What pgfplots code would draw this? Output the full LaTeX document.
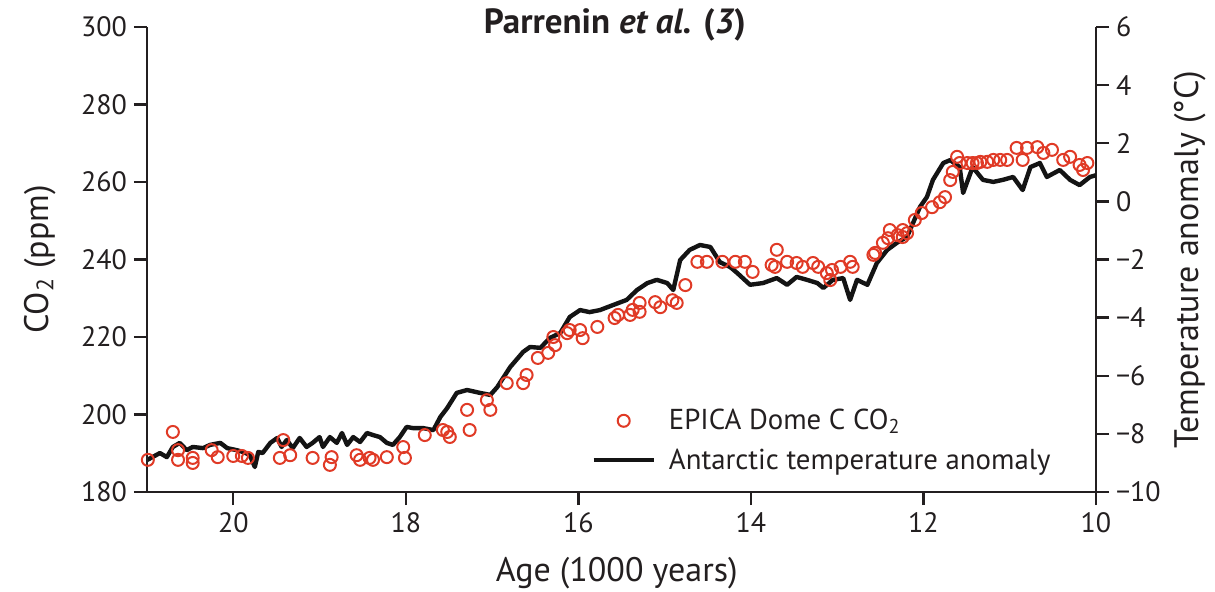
\documentclass[border=0pt]{standalone}
\usepackage{pgfplots}
\pgfplotsset{compat=1.18}
\usepackage{fontspec}
\setmainfont{PT Sans}
\definecolor{co2red}{RGB}{224,58,38}
\definecolor{axgray}{RGB}{35,31,32}
\definecolor{tline}{RGB}{20,20,20}

\pgfplotstableread{
x T
21.00 -8.90
20.85 -8.66
20.77 -8.80
20.70 -8.45
20.62 -8.31
20.54 -8.56
20.47 -8.45
20.35 -8.49
20.27 -8.38
20.15 -8.31
20.07 -8.49
19.96 -8.56
19.89 -8.62
19.81 -8.72
19.75 -9.14
19.71 -8.62
19.66 -8.66
19.57 -8.31
19.49 -8.14
19.44 -8.45
19.38 -8.21
19.31 -8.49
19.23 -8.14
19.15 -8.45
19.08 -8.31
19.00 -8.11
18.96 -8.45
18.88 -8.11
18.80 -8.31
18.74 -7.97
18.68 -8.38
18.61 -8.11
18.53 -8.28
18.45 -7.97
18.38 -8.04
18.30 -8.11
18.22 -8.31
18.15 -8.38
18.07 -8.11
17.99 -7.76
17.92 -7.80
17.80 -7.80
17.68 -7.87
17.60 -7.42
17.52 -7.11
17.41 -6.59
17.29 -6.49
17.14 -6.59
17.02 -6.66
16.94 -6.39
16.79 -5.70
16.64 -5.18
16.56 -5.01
16.44 -5.04
16.33 -4.70
16.21 -4.53
16.10 -3.98
15.98 -3.74
15.87 -3.81
15.75 -3.74
15.60 -3.57
15.44 -3.39
15.32 -3.05
15.20 -2.81
15.09 -2.70
14.97 -2.81
14.90 -3.05
14.82 -2.02
14.71 -1.67
14.59 -1.50
14.47 -1.57
14.36 -2.09
14.24 -2.26
14.16 -2.46
14.01 -2.87
13.86 -2.81
13.70 -2.64
13.58 -2.87
13.47 -2.60
13.35 -2.70
13.23 -2.81
13.16 -2.98
13.05 -2.70
12.93 -2.64
12.85 -3.39
12.77 -2.70
12.65 -2.87
12.54 -2.12
12.42 -1.67
12.31 -1.43
12.19 -1.22
12.04 -0.19
11.96 0.15
11.89 0.74
11.77 1.32
11.69 1.42
11.58 1.18
11.54 0.29
11.43 1.18
11.31 0.74
11.19 0.67
11.08 0.74
10.96 0.84
10.85 0.39
10.76 1.18
10.65 1.32
10.57 0.84
10.42 1.08
10.30 0.74
10.19 0.56
10.07 0.84
10.00 0.90
}\temptable

\pgfplotstableread{
x c
20.99 188.3
20.70 195.5
20.64 190.8
20.64 188.3
20.47 188.8
20.47 187.5
20.25 190.8
20.18 189.0
20.00 189.3
19.90 189.3
19.83 188.8
19.46 188.8
19.42 193.4
19.34 189.5
19.08 188.8
18.88 187.0
18.86 189.0
18.57 189.5
18.53 188.3
18.42 188.8
18.38 188.3
18.22 189.0
18.03 191.6
18.01 188.8
17.78 194.7
17.57 196.0
17.52 195.5
17.49 194.2
17.29 201.2
17.26 196.0
17.06 203.7
17.02 201.2
16.83 208.1
16.64 208.1
16.60 210.2
16.47 214.6
16.35 215.9
16.29 220.0
16.27 217.9
16.13 221.0
16.10 221.8
15.98 221.8
15.95 219.7
15.78 222.6
15.58 224.9
15.54 225.7
15.40 225.7
15.37 227.0
15.29 228.8
15.29 226.5
15.11 229.0
15.05 227.7
14.91 229.5
14.86 228.8
14.76 233.4
14.62 239.4
14.51 239.4
14.33 239.4
14.18 239.4
14.07 239.4
13.98 236.8
13.76 238.6
13.72 238.1
13.70 242.5
13.58 239.4
13.47 239.1
13.40 238.1
13.28 239.1
13.22 238.1
13.12 236.5
13.08 234.7
13.06 237.3
12.96 238.1
12.85 239.4
12.82 238.1
12.58 241.2
12.56 241.7
12.47 244.3
12.41 245.5
12.39 247.6
12.30 246.3
12.24 247.6
12.24 245.8
12.19 246.8
12.10 250.2
12.02 252.0
11.90 253.5
11.81 254.8
11.75 256.1
11.69 260.5
11.66 262.6
11.61 266.5
11.58 264.9
11.49 264.9
11.43 264.9
11.38 264.9
11.34 265.2
11.26 265.2
11.19 265.7
11.11 265.7
11.03 265.7
10.92 268.8
10.85 265.7
10.80 268.8
10.68 269.0
10.61 267.5
10.51 268.3
10.38 265.7
10.30 266.5
10.19 264.4
10.15 263.1
10.10 264.9
}\cotable

\begin{document}
\begin{tikzpicture}
\useasboundingbox (-73.5pt,-49.5pt) rectangle (534pt,246pt);
\pgfplotsset{
  common/.style={
    at={(0,0)}, anchor=south west,
    scale only axis, width=474.5pt, height=232.5pt,
    x dir=reverse, xmin=10, xmax=21,
    tick align=outside, major tick length=6.5pt,
    axis line style={axgray, line width=1.2pt},
    major tick style={axgray, line width=1.2pt},
    tick label style={font=\fontsize{14}{16}\selectfont, color=axgray},
    label style={font=\fontsize{17}{20}\selectfont, color=axgray},
    /pgf/number format/assume math mode=true,
  }
}
\begin{axis}[common,
  ymin=-10, ymax=6,
  axis x line=none,
  axis y line*=right,
  ytick={-10,-8,...,6},
  yticklabels={−10,−8,−6,−4,−2,0,2,4,6},
  ylabel={Temperature anomaly (°C)},
  ylabel style={at={(axis description cs:1.099,0.5)}, anchor=center},
  legend style={at={(axis description cs:0.468,0.19)}, anchor=north west,
    draw=none, fill=none, inner sep=0pt,
    font=\fontsize{14.4}{16}\selectfont, text=axgray,
    row sep=3pt, column sep=4pt, nodes={inner sep=2.5pt}},
  legend cell align=left,
  legend image code/.code={\draw[mark repeat=2,mark phase=2,#1] plot coordinates {(0pt,0pt) (15pt,0pt) (30pt,0pt)};},
]
\addlegendimage{only marks, mark=o, mark size=3pt, co2red, mark options={line width=1pt}}
\addlegendentry{EPICA Dome C CO\textsubscript{2}}
\addplot[tline, line width=2.2pt, line join=round] table[x=x, y=T] {\temptable};
\addlegendentry{Antarctic temperature anomaly}
\end{axis}
\begin{axis}[common,
  ymin=180, ymax=300,
  axis x line*=bottom, axis y line*=left,
  xtick={10,12,...,20}, ytick={180,200,...,300},
  clip=false,
  xlabel={Age (1000 years)},
  ylabel={CO\textsubscript{2} (ppm)},
  xlabel style={at={(axis description cs:0.495,-0.174)}, anchor=center},
  ylabel style={at={(axis description cs:-0.113,0.5)}, anchor=center},
  every axis title shift=0pt,
  title={\bfseries Parrenin \textit{et al.} (\textit{3})},
  title style={at={(axis description cs:0.493,1.004)}, anchor=center,
    font=\fontsize{17.5}{20}\selectfont, color=axgray},
]
\addplot[only marks, mark=o, mark size=3pt, co2red, mark options={line width=1pt}] table[x=x, y=c] {\cotable};
\end{axis}
\end{tikzpicture}
\end{document}
